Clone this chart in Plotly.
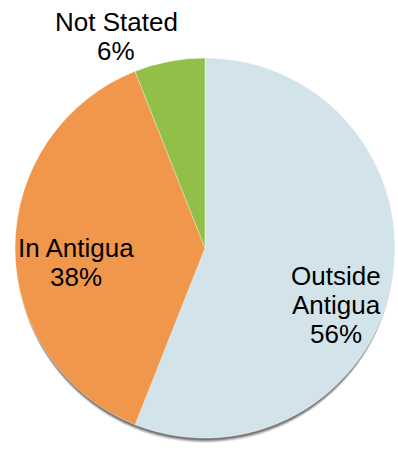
import plotly.graph_objects as go

# Place of residence breakdown
labels = ["Outside Antigua", "In Antigua", "Not Stated"]
values = [56, 38, 6]
colors = ["#d2e3ea", "#f0974b", "#91bf48"]

W, H = 398, 453
FONT = "Liberation Sans, Arial, sans-serif"

fig = go.Figure()

# pie centre and radius in pixels
cx, cy, r = 205, 248, 190

fig.add_trace(go.Pie(
    labels=labels,
    values=values,
    sort=False,
    direction="clockwise",
    rotation=0,
    textinfo="none",
    hoverinfo="label+percent",
    marker=dict(colors=colors, line=dict(color="rgba(255,255,255,0.6)", width=0.7)),
    domain=dict(x=[(cx - r) / W, (cx + r) / W],
                y=[1 - (cy + r) / H, 1 - (cy - r) / H]),
    showlegend=False,
))

# soft drop shadow under the pie
for off, alpha in [(5, 0.12), (4, 0.22), (3, 0.35), (2, 0.45)]:
    fig.add_shape(type="circle", xref="paper", yref="paper", layer="below",
                  x0=(cx - r + 1) / W, x1=(cx + r - 1) / W,
                  y0=1 - (cy + r + off) / H, y1=1 - (cy - r + off) / H,
                  fillcolor=f"rgba(70,70,70,{alpha})", line=dict(width=0))

# label lines: word-wrapped category name followed by the percentage
total = sum(values)
label_lines = {
    "Outside Antigua": ["Outside", "Antigua"],
    "In Antigua": ["In Antigua"],
    "Not Stated": ["Not Stated"],
}
# centre of each label block (pixels)
label_pos = {
    "Outside Antigua": (336, 305),
    "In Antigua": (76, 262),
    "Not Stated": (116, 36),
}
step = 29
for lab, val in zip(labels, values):
    lines = label_lines[lab] + [f"{round(100 * val / total)}%"]
    px, py = label_pos[lab]
    y0 = py - step * (len(lines) - 1) / 2
    for i, line in enumerate(lines):
        fig.add_annotation(
            text=line, xref="paper", yref="paper",
            x=px / W, y=1 - (y0 + i * step) / H,
            xanchor="center", yanchor="middle", showarrow=False,
            font=dict(family=FONT, size=26, color="#000000"),
        )

fig.update_layout(
    width=W, height=H,
    margin=dict(l=0, r=0, t=0, b=0),
    paper_bgcolor="white",
    plot_bgcolor="white",
)

fig.write_html("out.html")
